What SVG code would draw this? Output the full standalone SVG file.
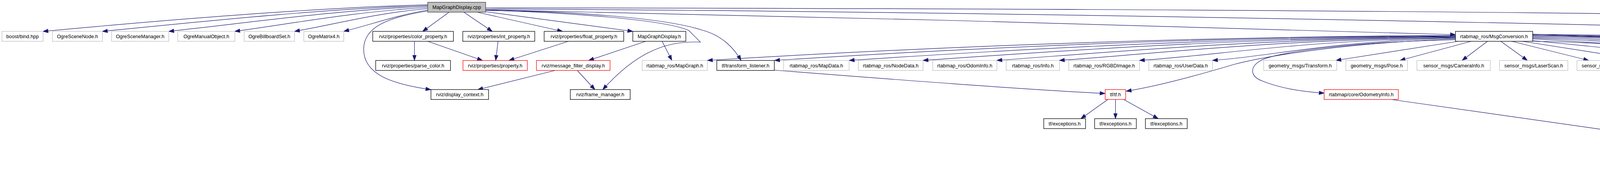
<svg xmlns="http://www.w3.org/2000/svg" width="6348" height="485" viewBox="0 0 6348 485">
<style>
.n rect{fill:#fff;stroke:#000;stroke-width:1.3}
.n.g rect{stroke:#bfbfbf}
.n.r rect{stroke:#ff0000}
.n.m rect{fill:#bfbfbf;stroke:#404040}
text{font-family:"Liberation Sans",Arial,sans-serif;font-size:12.7px;text-anchor:middle;fill:#000}
#edges path{fill:none;stroke:#191970;stroke-width:1.2;marker-end:url(#ah)}
</style>
<defs>
<marker id="ah" markerUnits="userSpaceOnUse" orient="auto" refX="13" refY="0" markerWidth="14" markerHeight="10" viewBox="0 -5 14 10" overflow="visible">
<path d="M0,-4.6 L13,0 L0,4.6 z" fill="#191970" stroke="#191970" stroke-width="1"/>
</marker>
</defs>
<rect width="6348" height="485" fill="#fff"/>
<g id="edges">
<path d="M1095,12 C770,22 420,52 110,80.5"/>
<path d="M1095,14 C810,24 520,55 262,80.5"/>
<path d="M1095,16 C850,27 640,58 432,80.5"/>
<path d="M1095,19 C910,30 750,60 601,80.5"/>
<path d="M1095,22 C960,34 860,62 754,80.5"/>
<path d="M1095,26 C1020,38 950,63 880,80.5"/>
<path d="M1150,31 L1082,80.5"/>
<path d="M1187,31 L1260,80.5"/>
<path d="M1220,31 L1440,80.5"/>
<path d="M1243,30 L1620,80.5"/>
<path d="M1095,28 C990,45 932,70 931,125 C930,190 1000,215 1103,230"/>
<path d="M1243,27 C1450,28 1700,45 1800,78 C1850,92 1880,125 1897,155"/>
<path d="M1243,26 C1450,32 1700,50 1763,78 L1793,108 C1740,106 1700,115 1660,135 C1610,160 1570,200 1543,230"/>
<path d="M1243,25 C2000,40 3000,66 3726,89"/>
<path d="M1243,23 C2500,28 4800,70 5830,118 C5990,125 6095,140 6095,167 C6095,200 6000,228 5830,248 C5500,285 5000,305 4817,313"/>
<path d="M1243,20 C3000,22 5000,32 6153,81"/>
<path d="M1695,106 L1720,155"/>
<path d="M1653,106 L1507,155"/>
<path d="M1061,106 L1061,155"/>
<path d="M1095,106 L1235,155"/>
<path d="M1275,106 L1269,155"/>
<path d="M1455,106 L1303,155"/>
<path d="M1420,181 L1223,230"/>
<path d="M1478,181 L1523,230"/>
<path d="M1982,180 C2300,205 2600,228 2829,240"/>
<path d="M2836,255.5 L2767,304.5"/>
<path d="M2855.6,255.5 L2855.6,304.5"/>
<path d="M2877,255.5 L2965,304.5"/>
<path d="M3726,91 C3000,94 2300,125 1811,155"/>
<path d="M3726,92 C3050,95 2420,127 1983,155"/>
<path d="M3726,93 C3100,97 2550,130 2174,155"/>
<path d="M3726,94 C3150,98 2680,133 2363,155"/>
<path d="M3726,95 C3200,100 2820,136 2552,155"/>
<path d="M3726,96 C3250,102 2950,139 2712,155"/>
<path d="M3726,97 C3320,104 3120,142 2917,155"/>
<path d="M3726,98 C3400,106 3250,145 3104,155"/>
<path d="M3726,100 C3450,110 3250,142 3160,165 C3060,195 2960,222 2883,234"/>
<path d="M3726,102 C3450,108 3265,135 3228,155 C3198,172 3200,196 3232,208 C3282,228 3340,236 3390,239"/>
<path d="M3733,106 L3420,155"/>
<path d="M3766,106 L3584,155"/>
<path d="M3808,106 L3743,155"/>
<path d="M3842,106 L3910,155"/>
<path d="M3870,106 L4067,155"/>
<path d="M3897,106 L4210,155"/>
<path d="M3921,104 L4432,155"/>
<path d="M3923,100 C4250,118 4600,148 4786,155"/>
<path d="M3923,98 C4300,112 4750,145 4957,155"/>
<path d="M3923,96 C4400,108 4900,140 5146,155"/>
<path d="M3923,94 C4500,103 5100,135 5406,155"/>
<path d="M3923,92 C4500,100 5200,130 5562,155"/>
<path d="M3923,90 C4600,98 5300,125 5746,155"/>
<path d="M3923,88 C4600,95 5400,120 5927,155"/>
<path d="M3923,90 C4350,98 4560,118 4640,140 C4700,158 4690,195 4637,229.5"/>
<path d="M3923,88 C4400,100 4640,125 4690,147 C4730,170 4742,240 4742,304"/>
<path d="M3920,106 C4150,108 4300,130 4370,160 C4440,200 4490,300 4510,379"/>
<path d="M3563,255.5 L4433,379.3"/>
<path d="M4973,181 L4687,230"/>
<path d="M5017,181 L4776,304"/>
<path d="M5025,181 L4690,454"/>
<path d="M4613,255.5 L4523,379"/>
<path d="M4625,255.5 L4670,454"/>
<path d="M4642,255.5 L4723,304.5"/>
<path d="M4705,330 L4553,379"/>
<path d="M4737,330 L4683,454"/>
<path d="M4540,404.7 L4650,454"/>
<path d="M6248,106 L6248,155"/>
</g>
<g id="n_cpp" class="n m"><rect x="1095" y="5.8" width="148.3" height="25.5"/><text x="1169.2" y="23.1">MapGraphDisplay.cpp</text></g>
<g id="n_boost" class="n g"><rect x="5" y="80.5" width="105.3" height="25.5"/><text x="57.7" y="97.8">boost/bind.hpp</text></g>
<g id="n_scenenode" class="n g"><rect x="134.3" y="80.5" width="128" height="25.5"/><text x="198.3" y="97.8">OgreSceneNode.h</text></g>
<g id="n_scenemgr" class="n g"><rect x="285.7" y="80.5" width="146.3" height="25.5"/><text x="358.8" y="97.8">OgreSceneManager.h</text></g>
<g id="n_manual" class="n g"><rect x="455" y="80.5" width="146.3" height="25.5"/><text x="528.2" y="97.8">OgreManualObject.h</text></g>
<g id="n_billboard" class="n g"><rect x="625" y="80.5" width="129" height="25.5"/><text x="689.5" y="97.8">OgreBillboardSet.h</text></g>
<g id="n_matrix4" class="n g"><rect x="777.7" y="80.5" width="102.3" height="25.5"/><text x="828.8" y="97.8">OgreMatrix4.h</text></g>
<g id="n_colorprop" class="n"><rect x="954.3" y="80.5" width="206.4" height="25.5"/><text x="1057.5" y="97.8">rviz/properties/color_property.h</text></g>
<g id="n_intprop" class="n"><rect x="1184.7" y="80.5" width="184.3" height="25.5"/><text x="1276.8" y="97.8">rviz/properties/int_property.h</text></g>
<g id="n_floatprop" class="n"><rect x="1393" y="80.5" width="203.7" height="25.5"/><text x="1494.8" y="97.8">rviz/properties/float_property.h</text></g>
<g id="n_mgdh" class="n"><rect x="1620" y="80.5" width="135.7" height="25.5"/><text x="1687.8" y="97.8">MapGraphDisplay.h</text></g>
<g id="n_msgconv" class="n"><rect x="3726" y="80.5" width="197.7" height="25.5"/><text x="3824.8" y="97.8">rtabmap_ros/MsgConversion.h</text></g>
<g id="n_pluginlib" class="n"><rect x="6153" y="80.5" width="189.7" height="25.5"/><text x="6247.8" y="97.8">pluginlib/class_list_macros.h</text></g>
<g id="n_parsecolor" class="n"><rect x="961.7" y="155.2" width="191.6" height="25.5"/><text x="1057.5" y="172.5">rviz/properties/parse_color.h</text></g>
<g id="n_property" class="n r"><rect x="1185.3" y="155.2" width="164.7" height="25.5"/><text x="1267.7" y="172.5">rviz/properties/property.h</text></g>
<g id="n_mfd" class="n r"><rect x="1373.3" y="155.2" width="188.4" height="25.5"/><text x="1467.5" y="172.5">rviz/message_filter_display.h</text></g>
<g id="n_mapgraph" class="n g"><rect x="1644" y="155.2" width="167" height="25.5"/><text x="1727.5" y="172.5">rtabmap_ros/MapGraph.h</text></g>
<g id="n_tflistener" class="n"><rect x="1835" y="155.2" width="147.3" height="25.5"/><text x="1908.7" y="172.5">tf/transform_listener.h</text></g>
<g id="n_mapdata" class="n g"><rect x="2006" y="155.2" width="167.7" height="25.5"/><text x="2089.8" y="172.5">rtabmap_ros/MapData.h</text></g>
<g id="n_nodedata" class="n g"><rect x="2197.3" y="155.2" width="165.7" height="25.5"/><text x="2280.2" y="172.5">rtabmap_ros/NodeData.h</text></g>
<g id="n_odominfo" class="n g"><rect x="2387.7" y="155.2" width="164.3" height="25.5"/><text x="2469.8" y="172.5">rtabmap_ros/OdomInfo.h</text></g>
<g id="n_info" class="n g"><rect x="2576" y="155.2" width="136.3" height="25.5"/><text x="2644.2" y="172.5">rtabmap_ros/Info.h</text></g>
<g id="n_rgbd" class="n g"><rect x="2736" y="155.2" width="181.3" height="25.5"/><text x="2826.7" y="172.5">rtabmap_ros/RGBDImage.h</text></g>
<g id="n_userdata" class="n g"><rect x="2941" y="155.2" width="163" height="25.5"/><text x="3022.5" y="172.5">rtabmap_ros/UserData.h</text></g>
<g id="n_gtransform" class="n g"><rect x="3235" y="155.2" width="187" height="25.5"/><text x="3328.5" y="172.5">geometry_msgs/Transform.h</text></g>
<g id="n_pose" class="n g"><rect x="3445.3" y="155.2" width="158" height="25.5"/><text x="3524.3" y="172.5">geometry_msgs/Pose.h</text></g>
<g id="n_caminfo" class="n g"><rect x="3627.3" y="155.2" width="188" height="25.5"/><text x="3721.3" y="172.5">sensor_msgs/CameraInfo.h</text></g>
<g id="n_laser" class="n g"><rect x="3838.7" y="155.2" width="175" height="25.5"/><text x="3926.2" y="172.5">sensor_msgs/LaserScan.h</text></g>
<g id="n_image" class="n g"><rect x="4037" y="155.2" width="149" height="25.5"/><text x="4111.5" y="172.5">sensor_msgs/Image.h</text></g>
<g id="n_opencv" class="n g"><rect x="4209.3" y="155.2" width="148.4" height="25.5"/><text x="4283.5" y="172.5">opencv2/opencv.hpp</text></g>
<g id="n_features2d" class="n g"><rect x="4431.7" y="155.2" width="223.6" height="25.5"/><text x="4543.5" y="172.5">opencv2/features2d/features2d.hpp</text></g>
<g id="n_cvbridge" class="n"><rect x="4786" y="155.2" width="147.7" height="25.5"/><text x="4859.8" y="172.5">cv_bridge/cv_bridge.h</text></g>
<g id="n_stats" class="n"><rect x="4957.3" y="155.2" width="165.7" height="25.5"/><text x="5040.2" y="172.5">rtabmap/core/Statistics.h</text></g>
<g id="n_stereo" class="n r"><rect x="5146" y="155.2" width="236.7" height="25.5"/><text x="5264.3" y="172.5">rtabmap/core/StereoCameraModel.h</text></g>
<g id="n_roslink" class="n g"><rect x="5406.3" y="155.2" width="131.7" height="25.5"/><text x="5472.2" y="172.5">rtabmap_ros/Link.h</text></g>
<g id="n_keypoint" class="n g"><rect x="5561.7" y="155.2" width="160.3" height="25.5"/><text x="5641.8" y="172.5">rtabmap_ros/KeyPoint.h</text></g>
<g id="n_point2f" class="n g"><rect x="5746" y="155.2" width="157.3" height="25.5"/><text x="5824.7" y="172.5">rtabmap_ros/Point2f.h</text></g>
<g id="n_point3f" class="n g"><rect x="5927" y="155.2" width="151" height="25.5"/><text x="6002.5" y="172.5">rtabmap_ros/Point3f.h</text></g>
<g id="n_clm" class="n"><rect x="6167.7" y="155.2" width="160.3" height="25.5"/><text x="6247.8" y="172.5">./class_list_macros.hpp</text></g>
<g id="n_dispctx" class="n"><rect x="1103.3" y="229.8" width="147.4" height="25.5"/><text x="1177" y="247.1">rviz/display_context.h</text></g>
<g id="n_framemgr" class="n"><rect x="1460" y="229.8" width="153.3" height="25.5"/><text x="1536.7" y="247.1">rviz/frame_manager.h</text></g>
<g id="n_tf" class="n r"><rect x="2829.3" y="229.8" width="52.4" height="25.5"/><text x="2855.5" y="247.1">tf/tf.h</text></g>
<g id="n_odometryinfo" class="n r"><rect x="3389.7" y="229.8" width="190" height="25.5"/><text x="3484.7" y="247.1">rtabmap/core/OdometryInfo.h</text></g>
<g id="n_signature" class="n r"><rect x="4539.3" y="229.8" width="166" height="25.5"/><text x="4622.3" y="247.1">rtabmap/core/Signature.h</text></g>
<g id="n_exc1" class="n"><rect x="2672" y="304.5" width="107" height="25.5"/><text x="2725.5" y="321.8">tf/exceptions.h</text></g>
<g id="n_exc2" class="n"><rect x="2802.3" y="304.5" width="106.7" height="25.5"/><text x="2855.7" y="321.8">tf/exceptions.h</text></g>
<g id="n_exc3" class="n"><rect x="2932.3" y="304.5" width="107" height="25.5"/><text x="2985.8" y="321.8">tf/exceptions.h</text></g>
<g id="n_corelink" class="n"><rect x="4674.3" y="304.5" width="143" height="25.5"/><text x="4745.8" y="321.8">rtabmap/core/Link.h</text></g>
<g id="n_lmtransform" class="n"><rect x="4429.7" y="379.2" width="170" height="25.5"/><text x="4514.7" y="396.5">tf/LinearMath/Transform.h</text></g>
<g id="n_rtabexp" class="n"><rect x="4581.7" y="453.9" width="194.3" height="25.5"/><text x="4678.8" y="471.2">rtabmap/core/RtabmapExp.h</text></g>
</svg>
